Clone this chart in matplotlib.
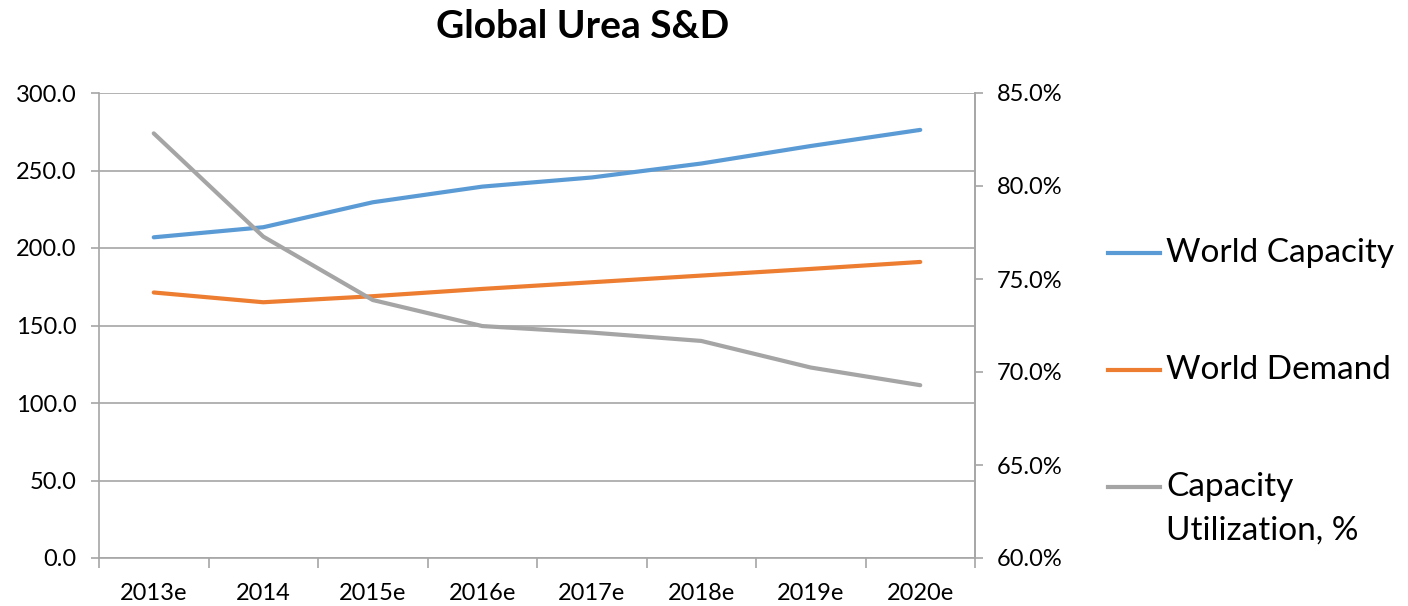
import matplotlib
matplotlib.use("Agg")
import matplotlib.pyplot as plt
from matplotlib.lines import Line2D
from matplotlib.ticker import FuncFormatter, MultipleLocator

plt.rcParams['font.family'] = ['Lato', 'DejaVu Sans']

years = ['2013e', '2014', '2015e', '2016e', '2017e', '2018e', '2019e', '2020e']
world_capacity = [206.9, 213.4, 229.5, 239.6, 245.5, 254.5, 265.8, 276.2]
world_demand = [171.3, 165.0, 168.9, 173.6, 177.9, 182.2, 186.5, 191.0]
capacity_util = [82.83, 77.28, 73.87, 72.47, 72.12, 71.67, 70.24, 69.29]
series_names = ['World Capacity', 'World Demand', 'Capacity\nUtilization, %']

blue = '#5B9BD5'
orange = '#ED7D31'
grey = '#A5A5A5'
axis_grey = '#A6A6A6'

W, H = 1408, 606
fig = plt.figure(figsize=(W / 100, H / 100), dpi=100)
ax = fig.add_axes([99 / W, 1 - 558 / H, (975 - 99) / W, (558 - 93) / H])
ax2 = ax.twinx()

x = list(range(len(years)))
ax.plot(x, world_capacity, color=blue, lw=3, solid_capstyle='round', zorder=3)
ax.plot(x, world_demand, color=orange, lw=3, solid_capstyle='round', zorder=3)
ax2.plot(x, capacity_util, color=grey, lw=3, solid_capstyle='round', zorder=3)

ax.set_xlim(-0.5, len(years) - 0.5)
ax.set_ylim(0, 300)
ax2.set_ylim(60, 85)

ax.yaxis.set_major_locator(MultipleLocator(50))
ax.yaxis.set_major_formatter(FuncFormatter(lambda v, p: f'{v:.1f}'))
ax2.yaxis.set_major_locator(MultipleLocator(5))
ax2.yaxis.set_major_formatter(FuncFormatter(lambda v, p: f'{v:.1f}%'))

ax.set_xticks(x)
ax.set_xticklabels(years)
ax.set_xticks([i - 0.5 for i in range(len(years) + 1)], minor=True)
ax.tick_params(axis='x', which='major', length=0, pad=18, labelsize=17)
ax.tick_params(axis='x', which='minor', length=7, color=axis_grey, width=1.2)
ax.tick_params(axis='y', length=6, color=axis_grey, width=1.2, labelsize=17, pad=10)
ax2.tick_params(axis='y', length=6, color=axis_grey, width=1.2, labelsize=17, pad=10)

ax.grid(axis='y', color=axis_grey, lw=1.2, zorder=0)
for a in (ax, ax2):
    a.spines['top'].set_visible(False)
    for s in a.spines.values():
        s.set_color(axis_grey)
        s.set_linewidth(1.2)
ax2.spines['left'].set_visible(False)
ax2.spines['bottom'].set_visible(False)

fig.text(583 / W, 1 - 27 / H, 'Global Urea S&D', ha='center', va='center',
         fontsize=28, fontweight='bold')

# legend drawn by hand so the multi-line label keeps its line at the first row
legend_rows = [253, 370, 487]
for name, color, yrow in zip(series_names, [blue, orange, grey], legend_rows):
    fig.add_artist(Line2D([1108 / W, 1160 / W], [1 - yrow / H] * 2,
                          color=color, lw=3, transform=fig.transFigure))
    first, *rest = name.split('\n')
    fig.text(1166 / W, 1 - yrow / H, first, ha='left', va='center', fontsize=24)
    for k, line in enumerate(rest, 1):
        fig.text(1166 / W, 1 - (yrow + 44 * k) / H, line, ha='left', va='center',
                 fontsize=24)

fig.savefig('out.png', dpi=100)
